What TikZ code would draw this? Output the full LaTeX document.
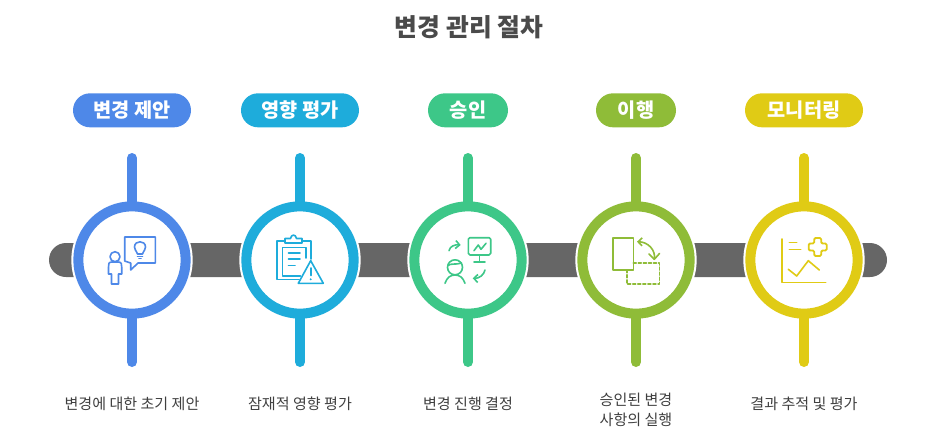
\documentclass[tikz,border=0pt]{standalone}
\usepackage{fontspec}
\setmainfont{Noto Sans CJK KR}
\usetikzlibrary{arrows.meta,calc}
\definecolor{cA}{HTML}{4E88E8}
\definecolor{cB}{HTML}{1EACDB}
\definecolor{cC}{HTML}{3DC788}
\definecolor{cD}{HTML}{8FBC38}
\definecolor{cE}{HTML}{E0CB15}
\definecolor{barc}{HTML}{666666}
\definecolor{titlec}{HTML}{4A4A4A}
\definecolor{textc}{HTML}{3F3F3F}
\tikzset{
  pill/.style={rounded corners=12.75pt,minimum width=88.5pt,minimum height=25.5pt,inner sep=0pt,text=white,font=\fontsize{14.8pt}{16pt}\selectfont\bfseries},
  stem/.style={line width=7.5pt,line cap=round},
  ring/.style={circle,draw,line width=7.5pt,fill=white,minimum size=80.5pt,inner sep=0pt},
  halo/.style={circle,fill=white,minimum size=91pt,inner sep=0pt},
  desc/.style={font=\fontsize{11.3pt}{15pt}\selectfont,text=textc,align=center},
  icon/.style={line width=1.2pt,line cap=round,line join=round},
  headtip/.style={-{Straight Barb[length=3pt,width=6pt,line width=1.2pt]}}
}
\begin{document}
\begin{tikzpicture}[x=0.75pt,y=-0.75pt]
\useasboundingbox (0,0) rectangle (936,444);
\node[font=\fontsize{18.6pt}{21pt}\selectfont\bfseries,text=titlec] (title) at (469,27) {변경 관리 절차};
\coordinate (barL) at (49,243);
\coordinate (barR) at (887,277);
\fill[barc,rounded corners=12.75pt] (barL) rectangle (barR);
\foreach \n/\x/\c/\lab/\des in {
  1/132/cA/변경 제안/변경에 대한 초기 제안,
  2/300/cB/영향 평가/잠재적 영향 평가,
  3/468/cC/승인/변경 진행 결정,
  4/636/cD/이행/{승인된 변경\\사항의 실행},
  5/804/cE/모니터링/결과 추적 및 평가}{
  \node[halo] (h\n) at (\x,260) {};
  \coordinate (t\n) at (\x,158);
  \coordinate (b\n) at (\x,362);
  \draw[stem,\c] (t\n) -- (b\n);
  \node[ring,draw=\c] (c\n) at (\x,260) {};
  \node[desc] (d\n) at (\x,\ifnum\n=4 409.5\else 403.5\fi) {\des};
}
\node[pill,fill=cA] (p1) at (132,110.3) {변경 제안};
\node[pill,fill=cB] (p2) at (300,110.3) {영향 평가};
\node[pill,fill=cC,minimum width=60pt] (p3) at (468,110.3) {승인};
\node[pill,fill=cD,minimum width=60pt] (p4) at (636,110.3) {이행};
\node[pill,fill=cE] (p5) at (804,110.3) {모니터링};
% icon 1
\begin{scope}[icon,cA]
\draw (124.7,237) -- (155.3,237) -- (155.3,263) -- (138,263) -- (130.7,270) -- (130.7,263) -- (124.7,261) -- cycle;
\draw (115,256.7) circle (5);
\draw (112,262) .. controls (108.5,262) and (108.5,264) .. (108.5,267) -- (108.5,274) -- (111.5,274) -- (111.5,284) -- (118.5,284) -- (118.5,274) -- (121.7,274) -- (121.7,267) .. controls (121.7,264) and (121.7,262) .. (118,262) -- cycle;
\draw (137.5,254) .. controls (136,250) and (134.5,250) .. (134.5,247) .. controls (134.5,240) and (145.5,240) .. (145.5,247) .. controls (145.5,250) and (144,250) .. (142.5,254) -- cycle;
\draw (137.5,256.5) -- (142.5,256.5);
\draw (139,258.5) -- (141,258.5);
\end{scope}
% icon 2
\begin{scope}[icon,cB]
\draw (311,259) -- (311,241) -- (302,241) (285,241) -- (276.7,241) -- (276.7,279.3) -- (299,279.3);
\draw (285,243) -- (285,238.5) -- (290.5,238.5) .. controls (291,234) and (296,234) .. (296.5,238.5) -- (302,238.5) -- (302,243) -- cycle;
\draw (305.7,258) -- (305.7,247.3) -- (282.3,247.3) -- (282.3,276) -- (300.5,276);
\draw (288.5,252.7) -- (300,252.7) (288.5,259) -- (300,259) (288.5,265.3) -- (295,265.3);
\draw (310.7,260.7) -- (323.3,283.3) -- (298.3,283.3) -- cycle;
\draw[line width=1.4pt] (310.7,268) -- (310.7,275.5);
\fill (310.7,279.3) circle (1.1);
\end{scope}
% icon 3
\begin{scope}[icon,cC]
\draw[rounded corners=1.2pt] (468.3,237.7) rectangle (490.7,255);
\draw (479.3,255) -- (479.3,262) (474,262) -- (485,262);
\draw (474,250.7) -- (478.3,245) -- (481,249.3) -- (486,243.3);
\draw[headtip] (449,250.7) .. controls (450,246) and (455,244.5) .. (460.7,245);
\draw (455,267.3) circle (7.5);
\draw (447.8,265.5) .. controls (451,263) and (456,265) .. (461.5,263);
\draw (445,283.3) .. controls (447,277) and (451,275) .. (455,275) .. controls (459,275) and (463,277) .. (465,283.3);
\draw[headtip] (485,270) .. controls (484,275) and (479,278.5) .. (472.7,278.3);
\end{scope}
% icon 4
\begin{scope}[icon,cD]
\draw (612.7,237.7) rectangle (633.3,270);
\draw[dash pattern=on 2.2pt off 1.6pt] (633.3,262.7) -- (659.3,262.7) -- (659.3,284) -- (626.7,284) -- (626.7,270);
\draw[headtip] (654.3,259.3) .. controls (656,250) and (648,242) .. (637,241.7);
\draw (654.3,259.3) -- (649,254) (654.3,259.3) -- (659.5,253.5);
\end{scope}
% icon 5
\begin{scope}[icon,cE]
\draw (782,239) -- (782,282.3) -- (825.7,282.3);
\draw (789.3,242.3) -- (796.7,242.3) (789.3,249.3) -- (800.7,249.3);
\draw[line width=1.4pt,rounded corners=1pt] (814.2,238) -- (821.2,238) -- (821.2,243.5) -- (826.7,243.5) -- (826.7,250.5) -- (821.2,250.5) -- (821.2,256) -- (814.2,256) -- (814.2,250.5) -- (808.7,250.5) -- (808.7,243.5) -- (814.2,243.5) -- cycle;
\draw (788.3,269.3) -- (796.7,276) -- (808.3,260.7) -- (819.3,270);
\end{scope}
\end{tikzpicture}
\end{document}
